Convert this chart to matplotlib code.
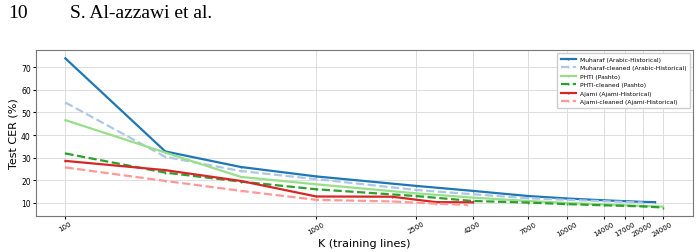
import numpy as np
import matplotlib.pyplot as plt
from matplotlib.ticker import FixedLocator, NullLocator

# training-set sizes (K lines) and test CER (%)
k_muharaf = [100, 250, 500, 1000, 2500, 4200, 7000, 10000, 14000, 20000, 22400]
cer_muharaf = [74.0, 32.7, 25.8, 21.6, 17.4, 15.2, 12.9, 11.8, 11.0, 10.3, 10.2]

k_muharaf_clean = [100, 250, 500, 1000, 2500, 4200, 7000, 10000, 14000, 20000]
cer_muharaf_clean = [54.4, 30.3, 24.0, 20.4, 15.6, 13.7, 11.9, 11.2, 10.6, 10.0]

k_phti = [100, 250, 500, 1000, 2500, 4200, 7000, 10000, 14000, 20000, 24000]
cer_phti = [46.6, 32.2, 21.4, 18.1, 14.1, 12.2, 10.7, 9.8, 9.2, 8.5, 8.2]

k_phti_clean = [100, 250, 500, 1000, 2500, 4200, 7000, 10000, 14000, 20000, 24000]
cer_phti_clean = [31.8, 23.3, 19.3, 15.9, 12.9, 10.7, 10.0, 9.3, 8.8, 8.3, 7.8]

k_ajami = [100, 250, 500, 1000, 2000, 3000, 4200]
cer_ajami = [28.5, 24.4, 19.6, 12.7, 12.6, 10.2, 10.1]

k_ajami_clean = [100, 250, 500, 1000, 2000, 3000, 4000]
cer_ajami_clean = [25.6, 19.6, 15.2, 11.2, 10.5, 9.5, 9.0]

xticks = [100, 1000, 2500, 4200, 7000, 10000, 14000, 17000, 20000, 24000]

series = [
    ("Muharaf (Arabic-Historical)", k_muharaf, cer_muharaf, "#1f77b4", "-"),
    ("Muharaf-cleaned (Arabic-Historical)", k_muharaf_clean, cer_muharaf_clean, "#aec7e8", "--"),
    ("PHTI (Pashto)", k_phti, cer_phti, "#98df8a", "-"),
    ("PHTI-cleaned (Pashto)", k_phti_clean, cer_phti_clean, "#2ca02c", "--"),
    ("Ajami (Ajami-Historical)", k_ajami, cer_ajami, "#d62728", "-"),
    ("Ajami-cleaned (Ajami-Historical)", k_ajami_clean, cer_ajami_clean, "#ff9896", "--"),
]

fig = plt.figure(figsize=(7.0, 2.53), dpi=100)
ax = fig.add_axes([0.052, 0.142, 0.938, 0.656])

for label, k, cer, color, ls in series:
    ax.plot(k, cer, color=color, linestyle=ls, linewidth=1.6,
            marker="|", markersize=2, label=label)

ax.set_xscale("log")
ax.set_xlim(76.6, 31750)
ax.set_ylim(4.0, 77.7)
ax.xaxis.set_major_locator(FixedLocator(xticks))
ax.xaxis.set_minor_locator(NullLocator())
ax.set_xticklabels([str(t) for t in xticks], rotation=30, fontsize=5)
ax.set_yticks([10, 20, 30, 40, 50, 60, 70])
ax.tick_params(axis="y", labelsize=5.5, length=2, pad=2)
ax.tick_params(axis="x", length=2, pad=1)
ax.set_xlabel("K (training lines)", fontsize=8, labelpad=1)
ax.set_ylabel("Test CER (%)", fontsize=8, labelpad=2)
ax.grid(True, color="#dddddd", linewidth=0.7)
for s in ax.spines.values():
    s.set_color("#777777")
    s.set_linewidth(0.8)

ax.legend(loc="upper right", fontsize=4.3, frameon=True, framealpha=1.0,
          edgecolor="#cccccc", fancybox=True, handlelength=2.6,
          borderpad=0.6, labelspacing=0.55, handletextpad=0.6)

# running page header from the paper
fig.text(8 / 700, 1 - 14 / 253, "10", family="Liberation Serif", fontsize=14, va="center")
fig.text(70 / 700, 1 - 14 / 253, "S. Al-azzawi et al.", family="Liberation Serif",
         fontsize=14, va="center")

fig.savefig("out.png", dpi=100)
